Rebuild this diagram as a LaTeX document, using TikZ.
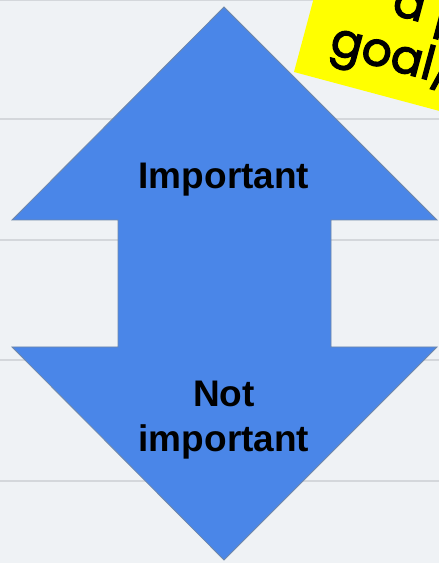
\documentclass[tikz,border=0pt]{standalone}
\usepackage{fontspec}
\setmainfont{Liberation Sans}
\newfontfamily\notefont[FakeBold=2.5]{Poppins}
\usetikzlibrary{positioning}
\definecolor{paper}{HTML}{EFF2F5}
\definecolor{ruling}{HTML}{D4D7DB}
\definecolor{arrowblue}{HTML}{4A86E8}
\definecolor{arrowedge}{HTML}{6F87A8}
\definecolor{stickyyellow}{HTML}{FFFF00}

\begin{document}
\begin{tikzpicture}[x=1pt,y=1pt,
  ruleline/.style={line width=1.5pt, ruling},
  arrowtext/.style={font=\fontsize{37}{45}\selectfont\bfseries, inner sep=0pt, anchor=base},
  notetext/.style={font=\notefont\fontsize{47}{56}\selectfont, inner sep=0pt, anchor=base west}]
\clip (0,0) rectangle (439,563);
\fill[paper] (0,0) rectangle (439,563);
% ruled paper
\foreach \y in {82,203,323,444,562.5}
  \draw[ruleline] (0,\y) -- (439,\y);
% up/down arrow
\draw[line width=0.8pt, arrowedge, fill=arrowblue]
  (224,556) -- (437,343) -- (331,343) -- (331,216) -- (437,216) -- (224,3)
  -- (12,216) -- (118,216) -- (118,343) -- (12,343) -- cycle;
\node[arrowtext] (important) at (224,374.5) {Important};
\node[arrowtext] (notword) at (224,156.3) {Not};
\node[arrowtext] (impword) at ([yshift=-45pt]notword.base) {important};
% sticky note
\begin{scope}[shift={(294,491)}, rotate=-15, transform shape]
\fill[stickyyellow] (0,0) rectangle (260,160);
\node[notetext] (notetop) at (78,81) {a p};
\node[notetext] (notegoal) at (28,27) {goal/};
\end{scope}
\end{tikzpicture}
\end{document}
